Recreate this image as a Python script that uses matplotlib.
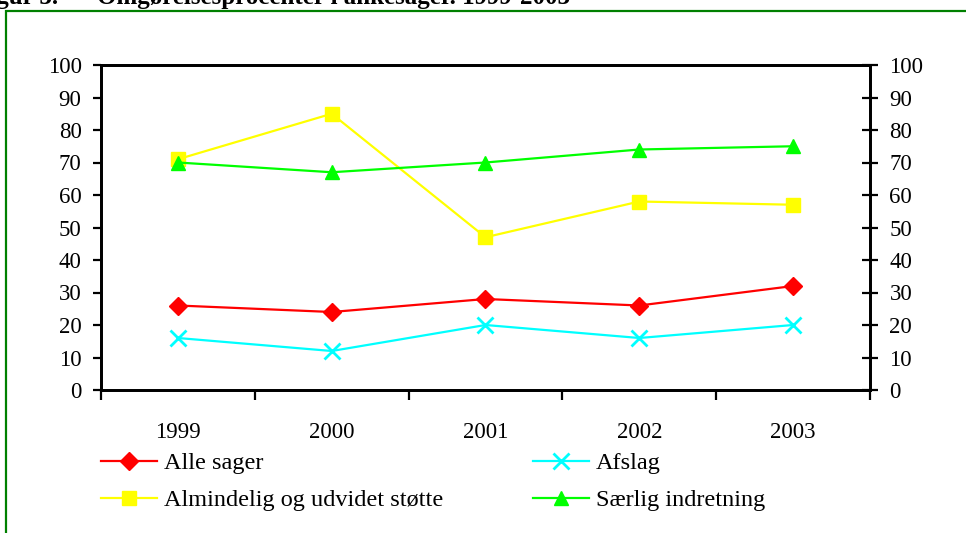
import matplotlib.pyplot as plt
from matplotlib.patches import Rectangle
from matplotlib.ticker import FixedLocator, NullFormatter

years = ['1999', '2000', '2001', '2002', '2003']
alle_sager = [26, 24, 28, 26, 32]
afslag = [16, 12, 20, 16, 20]
almindelig = [71, 85, 47, 58, 57]
saerlig = [70, 67, 70, 74, 75]
y_ticks = list(range(0, 101, 10))

plt.rcParams['font.family'] = ['Liberation Serif', 'DejaVu Serif']
FS = 16.5

W, H = 966, 533
fig = plt.figure(figsize=(W / 100, H / 100), dpi=100)

# green frame (only top and left visible)
fig.add_artist(Rectangle((6 / W, -0.1), 1.2, 1.1 - 11 / H, transform=fig.transFigure,
                         fill=False, edgecolor='#008000', linewidth=1.6))

# title, cut off at the top edge as in the source
fig.text(58 / W, 1 - 4 / H, 'Figur 3.', ha='right', va='baseline', fontsize=18,
         fontweight='bold')
fig.text(97 / W, 1 - 4 / H, 'Omgørelsesprocenter i ankesager. 1999-2003', ha='left',
         va='baseline', fontsize=18, fontweight='bold')

ax = fig.add_axes([101 / W, 1 - 390 / H, 769 / W, 325 / H])
x = list(range(len(years)))

h1, = ax.plot(x, alle_sager, color='#ff0000', lw=1.6, marker='D', ms=9, label='Alle sager')
h2, = ax.plot(x, afslag, color='#00ffff', lw=1.6, marker='x', ms=11, mew=2, label='Afslag')
h3, = ax.plot(x, almindelig, color='#ffff00', lw=1.6, marker='s', ms=9.5,
              label='Almindelig og udvidet støtte')
h4, = ax.plot(x, saerlig, color='#00ff00', lw=1.6, marker='^', ms=10.5, label='Særlig indretning')

ax.set_xlim(-0.5, len(years) - 0.5)
ax.set_ylim(0, 100)
ax.set_yticks(y_ticks)
ax.set_yticklabels([str(v) for v in y_ticks])
ax.tick_params(axis='y', direction='out', length=6, width=1.6, pad=8, labelsize=FS,
               colors='black')

ax.xaxis.set_major_locator(FixedLocator([i - 0.5 for i in range(len(years) + 1)]))
ax.xaxis.set_major_formatter(NullFormatter())
ax.xaxis.set_minor_locator(FixedLocator(x))
ax.set_xticklabels(years, minor=True)
ax.tick_params(axis='x', which='major', direction='out', length=7, width=1.6)
ax.tick_params(axis='x', which='minor', length=0, pad=23, labelsize=FS)

for s in ax.spines.values():
    s.set_linewidth(2)

ax2 = ax.twinx()
ax2.set_ylim(0, 100)
ax2.set_yticks(y_ticks)
ax2.set_yticklabels([str(v) for v in y_ticks])
ax2.tick_params(axis='y', direction='inout', length=12, width=1.6, pad=8, labelsize=FS)
for s in ax2.spines.values():
    s.set_linewidth(2)

kw = dict(frameon=False, fontsize=17.5, handlelength=2.3, handletextpad=0.3,
          labelspacing=0.62, borderpad=0, borderaxespad=0, loc='upper left')
fig.legend([h1, h3], [h1.get_label(), h3.get_label()],
           bbox_to_anchor=(101 / W, 1 - 452 / H), **kw)
fig.legend([h2, h4], [h2.get_label(), h4.get_label()],
           bbox_to_anchor=(533 / W, 1 - 452 / H), **kw)

fig.savefig('out.png', dpi=100)
